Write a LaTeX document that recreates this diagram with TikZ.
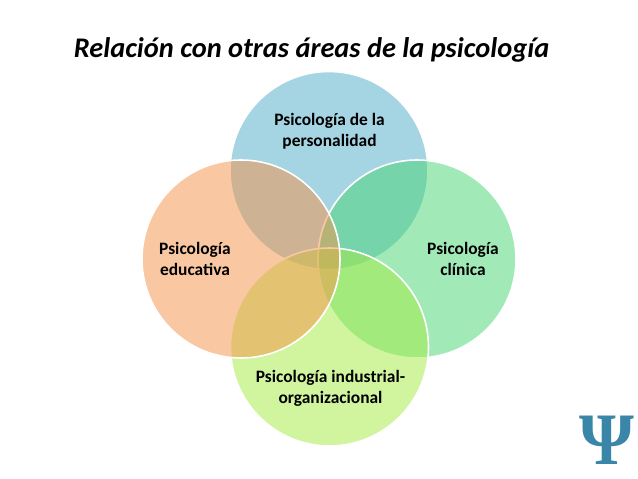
\documentclass[tikz,border=0pt]{standalone}
\usepackage{fontspec}
\setmainfont{Carlito}
\newfontfamily\psifont{Liberation Serif}
\definecolor{cTop}{RGB}{77,171,199}
\definecolor{cLeft}{RGB}{245,147,71}
\definecolor{cRight}{RGB}{71,213,115}
\definecolor{cBottom}{RGB}{165,235,65}
\definecolor{cPsi}{RGB}{58,134,168}
\tikzset{
  venn/.style={circle,minimum size=198pt,inner sep=0pt,draw=white,line width=1.6pt,fill opacity=.5,draw opacity=1},
  lab/.style={align=center,font=\fontsize{17.4}{21}\selectfont\bfseries,text=black,inner sep=0pt},
}
\begin{document}
\begin{tikzpicture}[x=1pt,y=-1pt]
\useasboundingbox[fill=white] (0,0) rectangle (638,479);
\node[venn,fill=cTop] (top) at (329,170.5) {};
\node[venn,fill=cRight] (right) at (417,259) {};
\node[venn,fill=cBottom] (bottom) at (329.5,347) {};
\node[venn,fill=cLeft] (left) at (241,259) {};
\node[lab] (ltop) at (329.5,131) {Psicología de la\\personalidad};
\node[lab] (lleft) at (195,259) {Psicología\\educativa};
\node[lab] (lright) at (463,259) {Psicología\\clínica};
\node[lab] (lbottom) at (330.5,388.5) {Psicología industrial-\\organizacional};
\node[font=\fontsize{28.4}{30}\selectfont\bfseries\itshape,text=black,inner sep=0pt] (title) at (311.5,49.5) {Relación con otras áreas de la psicología};
\node[font=\psifont\fontsize{74}{74}\selectfont\bfseries,text=cPsi,inner sep=0pt] (psi) at (607,440) {\scalebox{0.95}[1]{Ψ}};
\end{tikzpicture}
\end{document}
